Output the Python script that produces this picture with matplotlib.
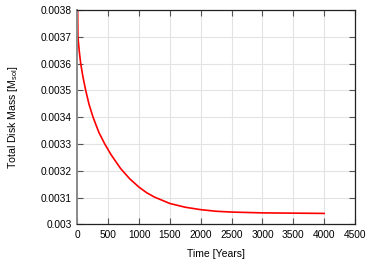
import matplotlib
matplotlib.use('Agg')
import matplotlib.pyplot as plt

# disk mass vs time (first point lies above the frame)
time_years = [0, 10, 30, 55, 90, 136, 190, 255, 350, 445, 550, 703, 850,
              1000, 1125, 1250, 1500, 1750, 2000, 2250, 2500, 3000, 3500,
              4000]
disk_mass = [0.00390, 0.003700, 0.003650, 0.003600, 0.003552, 0.003500,
             0.003448, 0.003400, 0.003343, 0.003300, 0.003259, 0.003208,
             0.003170, 0.003139, 0.003118, 0.003102, 0.003078, 0.003064,
             0.003055, 0.003049, 0.003046, 0.003043, 0.003042, 0.003041]

x_ticks = [0, 500, 1000, 1500, 2000, 2500, 3000, 3500, 4000, 4500]
y_ticks = [0.003, 0.0031, 0.0032, 0.0033, 0.0034, 0.0035, 0.0036, 0.0037, 0.0038]
y_labels = ['0.003', '0.0031', '0.0032', '0.0033', '0.0034', '0.0035', '0.0036', '0.0037', '0.0038']

plt.rcParams['font.family'] = ['Liberation Sans', 'DejaVu Sans']
plt.rcParams['mathtext.fontset'] = 'custom'
plt.rcParams['mathtext.rm'] = 'Liberation Sans'
plt.rcParams['mathtext.it'] = 'Liberation Sans'

fig = plt.figure(figsize=(3.74, 2.62), dpi=100)
ax = fig.add_axes([0.2067, 0.1435, 0.7425, 0.8185])

ax.plot(time_years, disk_mass, color='#ff0000', lw=1.2)

ax.set_xlim(0, 4500)
ax.set_ylim(0.003, 0.0038)
ax.set_xticks(x_ticks)
ax.set_yticks(y_ticks)
ax.set_yticklabels(y_labels)
ax.grid(True, color='#e3e3e3', lw=0.8)
ax.set_axisbelow(True)

ax.tick_params(direction='in', length=4, width=0.8, color='#555555',
               top=True, right=True, labelsize=7.3, pad=4)
for side in ['top', 'right', 'bottom']:
    ax.spines[side].set_color('#222222')
    ax.spines[side].set_linewidth(0.9)
ax.spines['left'].set_color('#8a8a8a')
ax.spines['left'].set_linewidth(1.4)

ax.set_xlabel('Time [Years]', fontsize=7.5)
ax.set_ylabel(r'Total Disk Mass [M$_{\mathrm{sol}}$]', fontsize=7.6)
ax.xaxis.set_label_coords(0.5, -0.115)
ax.yaxis.set_label_coords(-0.205, 0.5)

fig.savefig('out.png', dpi=100)
